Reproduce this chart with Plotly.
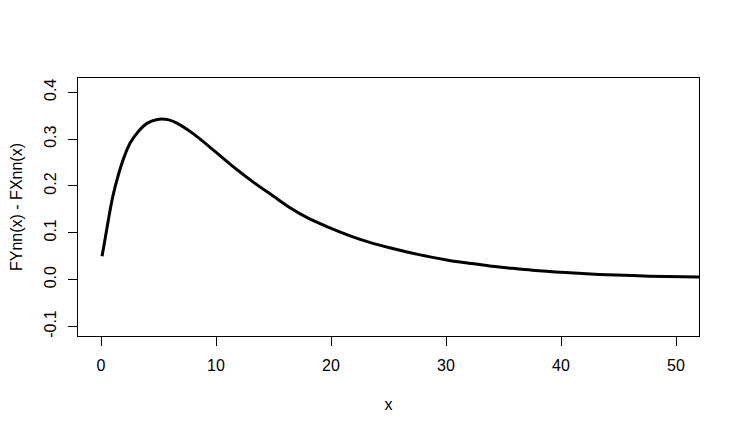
import plotly.graph_objects as go

# values
x_vals = [0.09, 0.4, 0.7, 1.04, 1.48, 2.0, 2.57, 3.3, 4.03, 4.9, 5.9, 6.6, 8.1,
          9.85, 11.6, 13.3, 15.0, 16.4, 18.1, 19.85, 21.6, 23.3, 25.1, 26.8,
          28.5, 30.3, 32.0, 33.8, 35.4, 37.5, 40.4, 43.3, 46.2, 49.1, 52.5]
y_vals = [0.050, 0.093, 0.136, 0.179, 0.221, 0.261, 0.293, 0.318, 0.334, 0.342,
          0.341, 0.334, 0.310, 0.275, 0.239, 0.207, 0.178, 0.154, 0.130, 0.111,
          0.094, 0.080, 0.068, 0.058, 0.049, 0.041, 0.035, 0.029, 0.025, 0.020,
          0.015, 0.011, 0.0085, 0.0065, 0.0052]

x_ticks = [0, 10, 20, 30, 40, 50]
y_ticks = [-0.1, 0.0, 0.1, 0.2, 0.3, 0.4]
y_tick_text = ["-0.1", "0.0", "0.1", "0.2", "0.3", "0.4"]

FONT = "Liberation Sans, Arial, sans-serif"

fig = go.Figure()
fig.add_trace(go.Scatter(
    x=x_vals, y=y_vals, mode="lines",
    line=dict(color="black", width=3, shape="spline", smoothing=0.8),
    showlegend=False, hoverinfo="skip",
))

axis_common = dict(
    showgrid=False, zeroline=False, automargin=False,
    showline=True, linecolor="black", linewidth=1, mirror=True,
    ticks="outside", ticklen=9, tickwidth=1, tickcolor="black",
    tickfont=dict(family=FONT, size=16, color="black"),
)

fig.update_xaxes(
    range=[-2, 52], tickvals=x_ticks,
    ticklabelstandoff=6,
    title=dict(text="x", font=dict(family=FONT, size=16, color="black"), standoff=25),
    **axis_common,
)
fig.update_yaxes(
    range=[-0.1204, 0.4304], tickvals=y_ticks, ticktext=y_tick_text,
    tickangle=-90, ticklabelstandoff=6,
    title=dict(text="FYnn(x) - FXnn(x)", font=dict(family=FONT, size=16, color="black"), standoff=15),
    **axis_common,
)

# the page body adds an 8px offset, so margins are shifted to compensate
fig.update_layout(
    width=740, height=434,
    margin=dict(l=70, r=49, t=70, b=106),
    paper_bgcolor="white", plot_bgcolor="white",
    font=dict(family=FONT, size=16, color="black"),
)

fig.write_html("out.html")
